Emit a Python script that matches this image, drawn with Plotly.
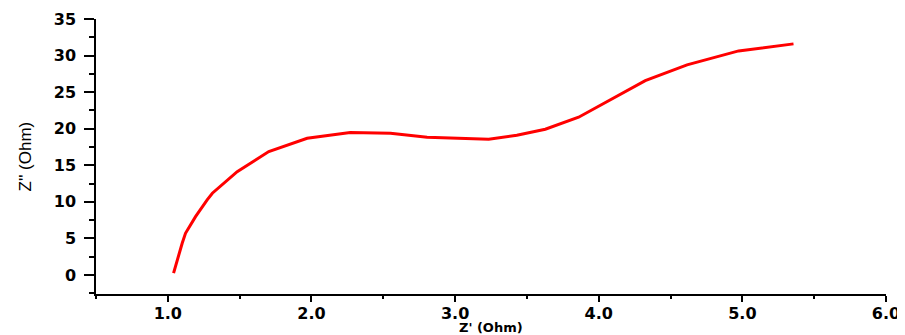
import plotly.graph_objects as go

z_real = [1.04, 1.06, 1.077, 1.10, 1.123, 1.193, 1.274, 1.31, 1.483, 1.703, 1.97, 2.27,
          2.55, 2.805, 3.234, 3.43, 3.628, 3.86, 4.324, 4.615, 4.974, 5.356]
z_imag = [0.25, 1.6, 2.97, 4.34, 5.7, 7.98, 10.26, 11.18, 14.13, 16.87, 18.70, 19.47,
          19.38, 18.84, 18.56, 19.1, 19.93, 21.57, 26.58, 28.73, 30.64, 31.6]

x_ticks = [1.0, 2.0, 3.0, 4.0, 5.0, 6.0]
x_tick_labels = ["1.0", "2.0", "3.0", "4.0", "5.0", "6.0"]
y_ticks = [0, 5, 10, 15, 20, 25, 30, 35]

fig = go.Figure()
fig.add_trace(go.Scatter(x=z_real, y=z_imag, mode="lines",
                         line=dict(color="#ff0000", width=3),
                         showlegend=False))

tickfont = dict(family="DejaVu Sans", size=16, color="black", weight="bold")

fig.update_layout(
    width=897, height=327,
    margin=dict(l=88, r=19, t=11, b=41, autoexpand=False),
    plot_bgcolor="white", paper_bgcolor="white",
    xaxis=dict(range=[0.5, 6.0], tickvals=x_ticks, ticktext=x_tick_labels,
               showline=True, linecolor="black", linewidth=1.5,
               ticks="outside", ticklen=6, tickwidth=1.5, tickcolor="black",
               minor=dict(dtick=0.5, tick0=0.5, ticks="outside", ticklen=3,
                          tickwidth=1.5, tickcolor="black", showgrid=False),
               showgrid=False, zeroline=False, tickfont=tickfont,
               ticklabelstandoff=-2),
    yaxis=dict(range=[-2.6, 35], tickvals=y_ticks,
               showline=True, linecolor="black", linewidth=1.5,
               ticks="outside", ticklen=10, tickwidth=1.5, tickcolor="black",
               minor=dict(dtick=2.5, tick0=0, ticks="outside", ticklen=5,
                          tickwidth=1.5, tickcolor="black", showgrid=False),
               showgrid=False, zeroline=False, tickfont=tickfont,
               ticklabelstandoff=5),
    annotations=[
        dict(text="Z' (Ohm)", xref="paper", yref="paper", x=0.5, y=0,
             xanchor="center", yanchor="middle", yshift=-33, showarrow=False,
             font=dict(family="DejaVu Sans", size=13, color="black", weight="bold")),
        dict(text="Z'' (Ohm)", xref="paper", yref="paper", x=0, y=0.5,
             xanchor="center", yanchor="middle", xshift=-71, textangle=-90,
             showarrow=False,
             font=dict(family="Liberation Sans Narrow, Liberation Sans", size=17, color="black")),
    ],
)

fig.write_html("out.html")
